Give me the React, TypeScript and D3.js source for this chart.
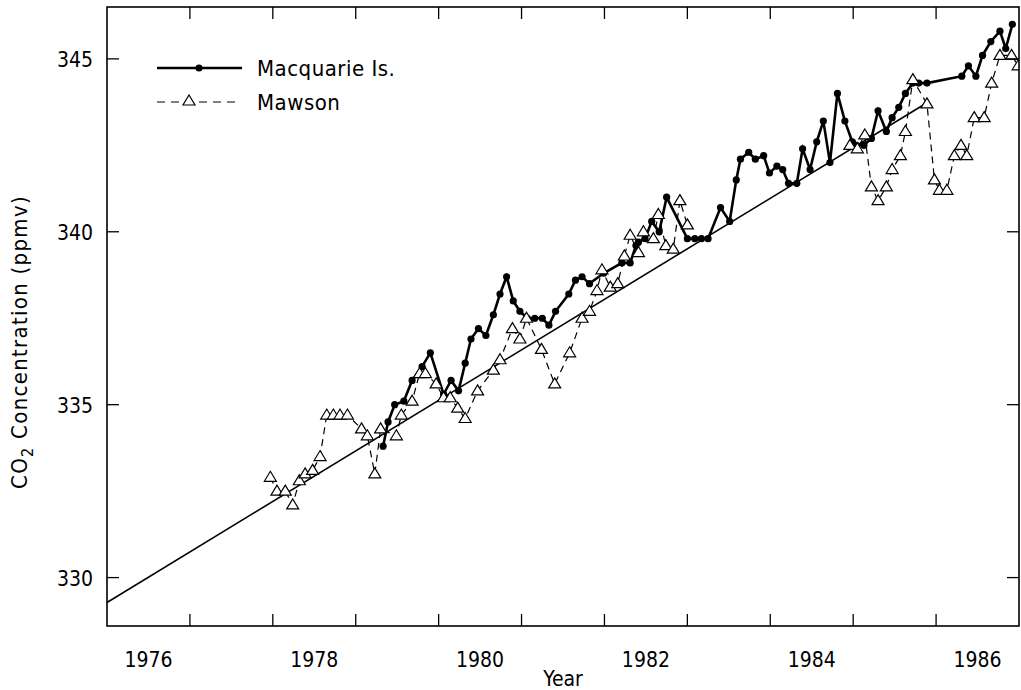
import * as d3 from "d3";
import React from "react";

// Macquarie Island monthly means (decimal year, ppmv)
const macquarieYears = [
  1979.33, 1979.39, 1979.47, 1979.58, 1979.68, 1979.8, 1979.9,
  1980.06, 1980.15, 1980.24, 1980.32, 1980.39, 1980.48, 1980.57, 1980.66, 1980.74, 1980.82, 1980.9, 1980.98,
  1981.07, 1981.16, 1981.25, 1981.33, 1981.41, 1981.57, 1981.65, 1981.73, 1981.82, 1981.99,
  1982.21, 1982.31, 1982.38, 1982.41, 1982.49, 1982.57, 1982.66, 1982.75,
  1983.0, 1983.09, 1983.17, 1983.25, 1983.4, 1983.51, 1983.59, 1983.64, 1983.74, 1983.82, 1983.92, 1983.99,
  1984.08, 1984.15, 1984.22, 1984.32, 1984.39, 1984.48, 1984.56, 1984.64, 1984.72, 1984.81, 1984.9, 1984.99,
  1985.04, 1985.13, 1985.22, 1985.3, 1985.4, 1985.47, 1985.55, 1985.63, 1985.72, 1985.79, 1985.89,
  1986.31, 1986.39, 1986.48, 1986.56, 1986.66, 1986.77, 1986.84, 1986.92,
];
const macquarieValues = [
  333.8, 334.5, 335.0, 335.1, 335.7, 336.1, 336.5,
  335.3, 335.7, 335.4, 336.2, 336.9, 337.2, 337.0, 337.6, 338.2, 338.7, 338.0, 337.7,
  337.5, 337.5, 337.5, 337.3, 337.7, 338.2, 338.6, 338.7, 338.5, 338.8,
  339.1, 339.1, 339.6, 339.7, 339.8, 340.3, 340.0, 341.0,
  339.8, 339.8, 339.8, 339.8, 340.7, 340.3, 341.5, 342.1, 342.3, 342.1, 342.2, 341.7,
  341.9, 341.8, 341.4, 341.4, 342.4, 341.8, 342.6, 343.2, 342.0, 344.0, 343.2, 342.6,
  342.5, 342.5, 342.7, 343.5, 342.9, 343.3, 343.6, 344.0, 344.3, 344.3, 344.3,
  344.5, 344.8, 344.5, 345.1, 345.5, 345.8, 345.3, 346.0,
];

// Mawson monthly means, null = no data (gap 1983-1984)
const mawsonYears = [
  1977.97,
  1978.05, 1978.15, 1978.24, 1978.32, 1978.39, 1978.48, 1978.57, 1978.65, 1978.73, 1978.81, 1978.9,
  1979.07, 1979.14, 1979.23, 1979.3, 1979.49, 1979.55, 1979.68, 1979.77, 1979.84, 1979.97,
  1980.06, 1980.14, 1980.23, 1980.32, 1980.47, 1980.66, 1980.74, 1980.89, 1980.98,
  1981.06, 1981.24, 1981.4, 1981.58, 1981.73, 1981.82, 1981.91, 1981.97,
  1982.07, 1982.16, 1982.24, 1982.31, 1982.41, 1982.47, 1982.59, 1982.65, 1982.74, 1982.83, 1982.91,
  1983.0, 1984.0, 1984.96,
  1985.05, 1985.14, 1985.22, 1985.3, 1985.4, 1985.47, 1985.57, 1985.63, 1985.72, 1985.89, 1985.98,
  1986.04, 1986.13, 1986.22, 1986.3, 1986.37, 1986.46, 1986.58, 1986.67, 1986.77, 1986.91, 1986.99,
];
const mawsonValues = [
  332.9,
  332.5, 332.5, 332.1, 332.8, 333.0, 333.1, 333.5, 334.7, 334.7, 334.7, 334.7,
  334.3, 334.1, 333.0, 334.3, 334.1, 334.7, 335.1, 335.9, 335.9, 335.6,
  335.2, 335.2, 334.9, 334.6, 335.4, 336.0, 336.3, 337.2, 336.9,
  337.5, 336.6, 335.6, 336.5, 337.5, 337.7, 338.3, 338.9,
  338.4, 338.5, 339.3, 339.9, 339.4, 340.0, 339.8, 340.5, 339.6, 339.5, 340.9,
  340.2, null, 342.5,
  342.4, 342.8, 341.3, 340.9, 341.3, 341.8, 342.2, 342.9, 344.4, 343.7, 341.5,
  341.2, 341.2, 342.2, 342.5, 342.2, 343.3, 343.3, 344.3, 345.1, 345.1, 344.8,
];

// fitted trend line end points
const trendYears = [1976.0, 1985.89];
const trendValues = [329.28, 343.73];

const yearTicks = d3.range(1977, 1987);
const yearLabels = [1976, 1978, 1980, 1982, 1984, 1986];
const valueTicks = [330, 335, 340, 345];

const W = 1021;
const H = 690;
const left = 107, right = 1019, top = 7, bottom = 626;
const font = "'DejaVu Sans', sans-serif";

const x = d3.scaleLinear([1976, 1987], [left, right]);
const y = d3.scaleLinear([328.6, 346.5], [bottom, top]);

type Pt = { t: number; v: number | null };

const macquarie: Pt[] = macquarieYears.map((t, i) => ({ t, v: macquarieValues[i] }));
const mawson: Pt[] = mawsonYears.map((t, i) => ({ t, v: mawsonValues[i] }));
const trend: Pt[] = trendYears.map((t, i) => ({ t, v: trendValues[i] }));

const line = d3
  .line<Pt>()
  .defined((d) => d.v !== null)
  .x((d) => x(d.t))
  .y((d) => y(d.v as number));

const tri = (cx: number, cy: number) =>
  `M${cx},${cy - 6}L${cx + 6},${cy + 4}L${cx - 6},${cy + 4}Z`;

export default function App() {
  return (
    <svg
      width={W}
      height={H}
      style={{ position: "absolute", left: 0, top: 0, background: "#fff", fontStretch: "condensed" }}
      fontFamily={font}
    >
      <rect x={0} y={0} width={W} height={H} fill="#fff" />
      <defs>
        <clipPath id="plot">
          <rect x={left} y={top} width={right - left} height={bottom - top} />
        </clipPath>
      </defs>

      <g clipPath="url(#plot)">
        {/* trend */}
        <path d={line(trend) || ""} fill="none" stroke="#000" strokeWidth={1.6} />
        {/* Mawson */}
        <path
          d={line(mawson) || ""}
          fill="none"
          stroke="#000"
          strokeWidth={1.2}
          strokeDasharray="7,5"
        />
        {/* Macquarie */}
        <path d={line(macquarie) || ""} fill="none" stroke="#000" strokeWidth={2.6} />
        {macquarie.map((d, i) => (
          <circle key={i} cx={x(d.t)} cy={y(d.v as number)} r={3.6} fill="#000" />
        ))}
        {mawson
          .filter((d) => d.v !== null)
          .map((d, i) => (
            <path key={i} d={tri(x(d.t), y(d.v as number))} fill="#fff" stroke="#000" strokeWidth={1.2} />
          ))}
      </g>

      {/* frame */}
      <rect
        x={left}
        y={top}
        width={right - left}
        height={bottom - top}
        fill="none"
        stroke="#000"
        strokeWidth={1.6}
      />

      {/* x ticks */}
      {yearTicks.map((t) => (
        <g key={t}>
          <line x1={x(t)} x2={x(t)} y1={bottom} y2={bottom - 12} stroke="#000" strokeWidth={1.3} />
          <line x1={x(t)} x2={x(t)} y1={top} y2={top + 12} stroke="#000" strokeWidth={1.3} />
        </g>
      ))}
      {yearLabels.map((t) => (
        <text key={t} x={x(t + 0.5)} y={667} fontSize={21} textAnchor="middle">
          {t}
        </text>
      ))}
      <text x={(left + right) / 2} y={686} fontSize={21} textAnchor="middle">
        Year
      </text>

      {/* y ticks */}
      {valueTicks.map((v) => (
        <g key={v}>
          <line x1={left} x2={left + 12} y1={y(v)} y2={y(v)} stroke="#000" strokeWidth={1.3} />
          <line x1={right} x2={right - 12} y1={y(v)} y2={y(v)} stroke="#000" strokeWidth={1.3} />
          <text x={93} y={y(v) + 8} fontSize={21} textAnchor="end">
            {v}
          </text>
        </g>
      ))}
      <text
        transform="translate(27,342) rotate(-90)"
        fontSize={22}
        letterSpacing={1.3}
        textAnchor="middle"
      >
        CO<tspan dy={6} fontSize={16}>2</tspan>
        <tspan dy={-6}> Concentration  (ppmv)</tspan>
      </text>

      {/* legend */}
      <line x1={157} x2={242} y1={68} y2={68} stroke="#000" strokeWidth={2.6} />
      <circle cx={199} cy={68} r={3.6} fill="#000" />
      <text x={257} y={76} fontSize={22} letterSpacing={0.5}>
        Macquarie Is.
      </text>
      <line x1={157} x2={240} y1={102} y2={102} stroke="#000" strokeWidth={1.2} strokeDasharray="8,6" />
      <path d={tri(189, 101)} fill="#fff" stroke="#000" strokeWidth={1.2} />
      <text x={257} y={110} fontSize={22} letterSpacing={0.5}>
        Mawson
      </text>
    </svg>
  );
}
